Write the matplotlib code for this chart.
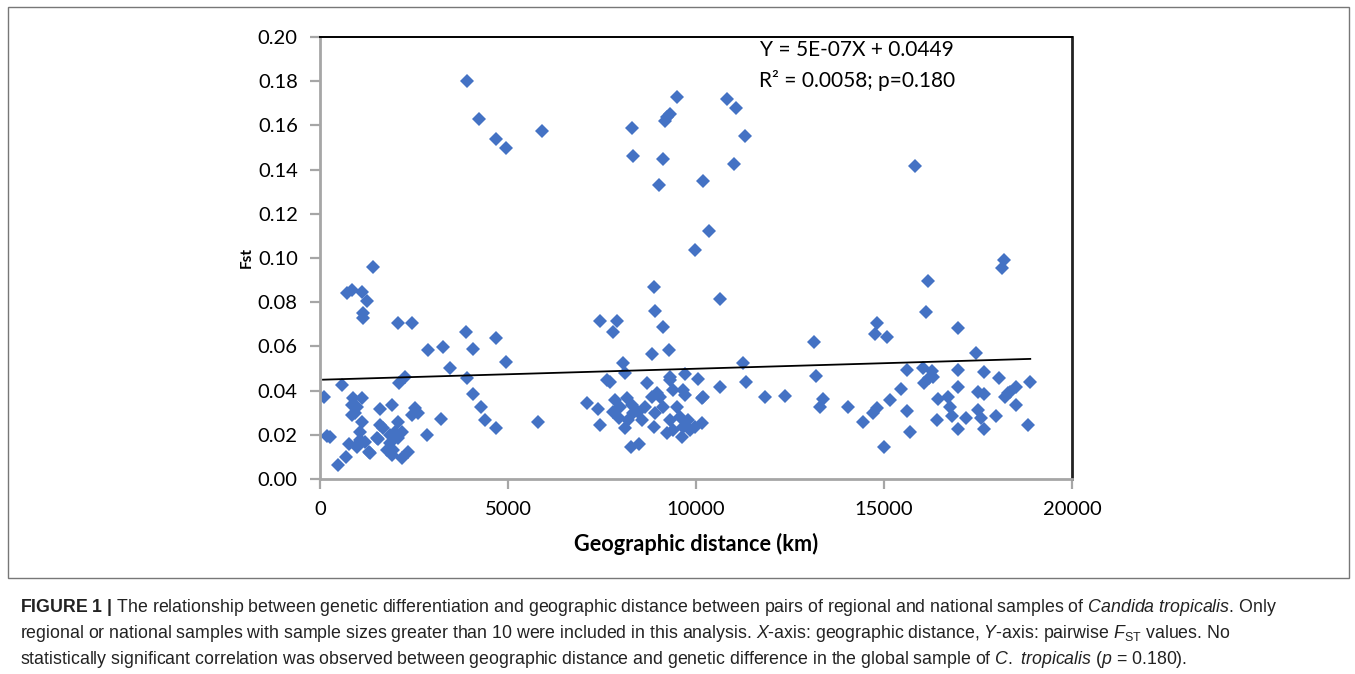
import numpy as np
import matplotlib.pyplot as plt
from matplotlib.patches import Rectangle

plt.rcParams['mathtext.fontset'] = 'custom'
plt.rcParams['mathtext.rm'] = 'Liberation Sans'
plt.rcParams['mathtext.it'] = 'Liberation Sans:italic'
plt.rcParams['mathtext.bf'] = 'Liberation Sans:bold'

# pairwise geographic distance (km) and Fst
dist_left = [110, 180, 270, 490, 580, 690, 710, 780, 840, 840, 850, 890, 930, 980, 980,
             1020, 1060, 1060, 1110, 1110, 1110, 1150, 1150, 1200, 1260, 1290, 1330, 1420,
             1510, 1530, 1600, 1600, 1680, 1770, 1860, 1860, 1910, 1910, 1950, 1990, 2080,
             2080, 2080, 2110, 2170, 2170, 2260, 2350, 2440, 2440, 2530, 2610, 2840, 2880,
             3230, 3260, 3470]
fst_left = [0.037, 0.0195, 0.019, 0.0063, 0.0425, 0.010, 0.0843, 0.016, 0.0855, 0.0335,
            0.029, 0.0365, 0.0297, 0.0146, 0.0327, 0.016, 0.0176, 0.0214, 0.0848, 0.0365,
            0.026, 0.075, 0.0727, 0.0169, 0.0807, 0.0124, 0.0119, 0.096, 0.0184, 0.018,
            0.0315, 0.0244, 0.0229, 0.0131, 0.0161, 0.0199, 0.0335, 0.0109, 0.0131, 0.0214,
            0.0184, 0.026, 0.0707, 0.0436, 0.0094, 0.0214, 0.0463, 0.0124, 0.0707, 0.029,
            0.032, 0.030, 0.0199, 0.0584, 0.027, 0.0599, 0.0504]

dist_mid = [3880, 3900, 3900, 4060, 4080, 4230, 4280, 4390, 4680, 4680, 4680, 4960, 4960,
            5810, 5900]
fst_mid = [0.0664, 0.1801, 0.0456, 0.0385, 0.059, 0.163, 0.0324, 0.0267, 0.154, 0.0637,
           0.0233, 0.150, 0.053, 0.026, 0.1575]

dist_centre = [7100, 7400, 7450, 7450, 7630, 7710, 7790, 7800, 7850, 7910, 7940, 7980,
               8070, 8110, 8110, 8160, 8200, 8270, 8290, 8290, 8330, 8330, 8470, 8490,
               8560, 8640, 8690, 8820, 8820, 8870, 8870, 8910, 8920, 8960, 9020, 9040,
               9120, 9120, 9130, 9180, 9220, 9220, 9290, 9310, 9310, 9310, 9310, 9400,
               9400, 9490, 9490, 9580, 9620, 9660, 9660, 9710, 9710, 9800, 9840, 9975,
               9975, 10060, 10150, 10150, 10180, 10180, 10340, 10650, 10650, 10820, 11010,
               11070, 11240, 11300, 11340, 11830, 12380]
fst_centre = [0.0342, 0.0315, 0.0716, 0.0244, 0.0448, 0.044, 0.0664, 0.0305, 0.0357,
              0.0716, 0.0275, 0.0327, 0.0526, 0.0478, 0.0229, 0.0365, 0.0267, 0.0146,
              0.159, 0.0335, 0.146, 0.0297, 0.0305, 0.0158, 0.0267, 0.0327, 0.0433,
              0.0566, 0.0372, 0.087, 0.0237, 0.0297, 0.0762, 0.0388, 0.133, 0.0372, 0.145,
              0.0689, 0.0327, 0.162, 0.164, 0.0207, 0.0584, 0.165, 0.0463, 0.0448, 0.0267,
              0.0403, 0.0222, 0.173, 0.0327, 0.0282, 0.0191, 0.0403, 0.0237, 0.0475, 0.038,
              0.0267, 0.0222, 0.1036, 0.0237, 0.0451, 0.0365, 0.0252, 0.135, 0.0372, 0.112,
              0.0813, 0.0416, 0.172, 0.1425, 0.168, 0.0524, 0.155, 0.044, 0.0369, 0.0377]

dist_right = [13140, 13190, 13300, 13390, 14030, 14450, 14720, 14760, 14810, 14810, 14990,
              15090, 15150, 15450, 15620, 15620, 15680, 15830, 16030, 16070, 16120, 16180,
              16210, 16270, 16300, 16400, 16430, 16710, 16760, 16800, 16970, 16980, 16980,
              16980, 17190, 17440, 17500, 17500, 17580, 17650, 17650, 17660, 17980, 18070,
              18150, 18190, 18220, 18310, 18350, 18500, 18510, 18840, 18890]
fst_right = [0.0621, 0.0466, 0.0324, 0.0362, 0.0324, 0.026, 0.030, 0.0655, 0.0704, 0.032,
             0.0143, 0.0644, 0.0358, 0.0408, 0.0493, 0.0307, 0.0214, 0.1416, 0.0502,
             0.0433, 0.0754, 0.0895, 0.0456, 0.0488, 0.0463, 0.0267, 0.0361, 0.0372,
             0.0327, 0.0284, 0.0681, 0.0493, 0.0416, 0.0227, 0.0275, 0.0569, 0.0395,
             0.0312, 0.0275, 0.0385, 0.0224, 0.0483, 0.0286, 0.0459, 0.0953, 0.099, 0.0372,
             0.0389, 0.0395, 0.0418, 0.0335, 0.0243, 0.044]

slope = 5e-07
intercept = 0.0449
x_ticks = [0, 5000, 10000, 15000, 20000]
y_ticks = [0.00, 0.02, 0.04, 0.06, 0.08, 0.10, 0.12, 0.14, 0.16, 0.18, 0.20]

dist = np.array(dist_left + dist_mid + dist_centre + dist_right)
fst = np.array(fst_left + fst_mid + fst_centre + fst_right)

W, H = 1355, 674
fig = plt.figure(figsize=(W / 100, H / 100), dpi=100)
ax = fig.add_axes([320 / W, 1 - 479 / H, 752 / W, 442 / H])

ax.plot(dist, fst, 'D', color='#4472c4', markersize=7.6, markeredgewidth=0)
xl = np.array([dist.min() - 30, dist.max()])
ax.plot(xl, slope * xl + intercept, color='black', lw=1.3)

ax.set_xlim(0, 20000)
ax.set_ylim(0, 0.20)
ax.set_xticks(x_ticks)
ax.set_xticklabels([str(t) for t in x_ticks])
ax.set_yticks(y_ticks)
ax.set_yticklabels(['%.2f' % t for t in y_ticks])
ax.tick_params(axis='both', direction='out', length=7, width=1.6, color='#a6a6a6',
               labelsize=14.5, pad=9)
for lab in ax.get_xticklabels() + ax.get_yticklabels():
    lab.set_family('Lato')

for s in ['left', 'bottom']:
    ax.spines[s].set_color('#a6a6a6')
    ax.spines[s].set_linewidth(2)
ax.spines['top'].set_color('black')
ax.spines['top'].set_linewidth(1.4)
ax.spines['right'].set_color('#222222')
ax.spines['right'].set_linewidth(2)

ax.text(0.714, 0.9706, 'Y = 5E-07X + 0.0449', transform=ax.transAxes, ha='center',
        va='center', fontsize=15, family='Lato')
ax.text(0.714, 0.9027, 'R² = 0.0058; p=0.180', transform=ax.transAxes, ha='center',
        va='center', fontsize=15, family='Lato')

fig.text(696 / W, 1 - 544 / H, 'Geographic distance (km)', ha='center', va='center',
         fontsize=15.6, fontweight='bold', family='Lato')
fig.text(247 / W, 1 - 258 / H, 'Fst', ha='center', va='center', rotation=90,
         fontsize=11, fontweight='bold', family='Lato')

# frame around the figure panel
fig.add_artist(Rectangle((8 / W, 1 - 578 / H), 1341 / W, 571 / H, transform=fig.transFigure,
                         fill=False, edgecolor='#777777', lw=1))

cap = [r'$\mathbf{FIGURE\ 1\ |}$ The relationship between genetic differentiation and geographic distance between pairs of regional and national samples of $\mathit{Candida\ tropicalis}$. Only',
       r'regional or national samples with sample sizes greater than 10 were included in this analysis. $\mathit{X}$-axis: geographic distance, $\mathit{Y}$-axis: pairwise $\mathit{F}_{\mathrm{ST}}$ values. No',
       r'statistically significant correlation was observed between geographic distance and genetic difference in the global sample of $\mathit{C.}$ $\mathit{tropicalis}$ ($\mathit{p}$ = 0.180).']
for i, line in enumerate(cap):
    fig.text(20 / W, 1 - (608 + 26 * i) / H, line, ha='left', va='center', fontsize=12.8,
             family='Liberation Sans', color='#222222')

fig.savefig('out.png', dpi=100)
